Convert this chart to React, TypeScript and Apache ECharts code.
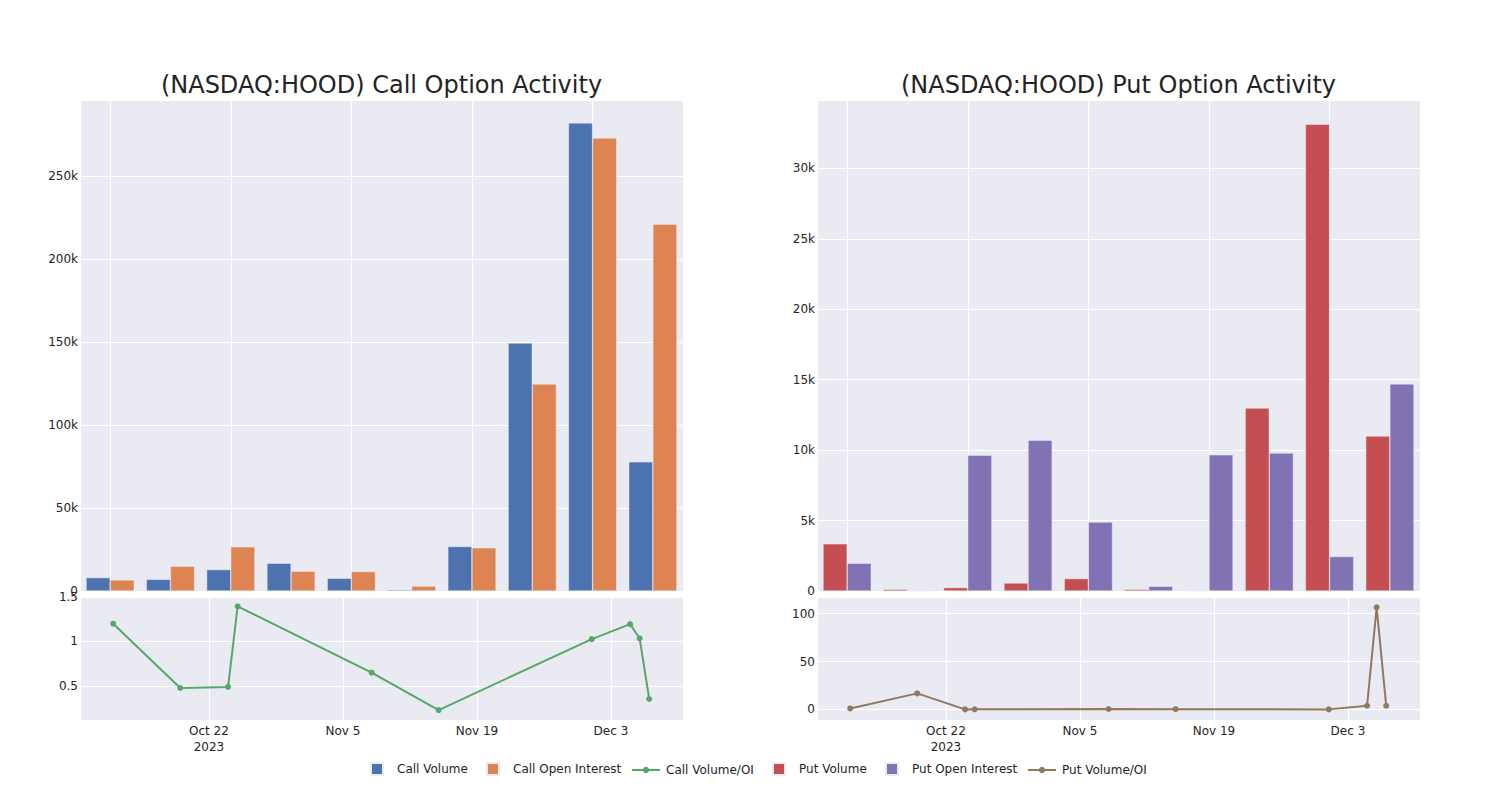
import React, { useEffect, useRef } from 'react';
import * as echarts from 'echarts';

// ---- data ----
const dates = [
  '2023-10-12', '2023-10-19', '2023-10-24', '2023-10-25', '2023-11-08',
  '2023-11-15', '2023-12-01', '2023-12-05', '2023-12-06', '2023-12-07',
];
const callVolume = [8050, 7000, 12900, 16700, 7650, 680, 26800, 149400, 282000, 77800];
const callOpenInterest = [6650, 14900, 26600, 11900, 11700, 2970, 26000, 124700, 272900, 220900];
const callVolumeOI = [1.2, 0.477, 0.489, 1.395, 0.65, 0.229, 1.026, 1.195, 1.034, 0.353];
const putVolume = [3350, 120, 240, 570, 880, 120, 20, 12990, 33140, 11000];
const putOpenInterest = [1970, 7, 9640, 10710, 4890, 330, 9670, 9790, 2450, 14700];
const putVolumeOI = [1.0, 16.7, 0.0, 0.1, 0.4, 0.2, 0.0, 3.8, 106.6, 3.8];

const xTickDates = ['2023-10-22', '2023-11-05', '2023-11-19', '2023-12-03'];
const xTickLabels = ['Oct 22\n2023', 'Nov 5', 'Nov 19', 'Dec 3'];

const titles = ['(NASDAQ:HOOD) Call Option Activity', '(NASDAQ:HOOD) Put Option Activity'];

// ---- helpers ----
const DAY = 86400000;
const refMs = Date.parse(xTickDates[0] + 'T00:00:00Z');
const dayOffset = (d: string) => (Date.parse(d + 'T00:00:00Z') - refMs) / DAY;
const tickOffsets = xTickDates.map(dayOffset);

const FONT = '"DejaVu Sans", verdana, arial, sans-serif';
const TXT = '#242424';
const BG = '#EAEAF2';
const COLORS = {
  callVol: '#4C72B0', callOI: '#DD8452', callRatio: '#55A868',
  putVol: '#C44E52', putOI: '#8172B3', putRatio: '#937860',
};

const isMult = (v: number, step: number) => Math.abs(v / step - Math.round(v / step)) < 1e-6;
const kFmt = (step: number) => (v: number) => {
  if (!isMult(v, step)) return '';
  if (v === 0) return '0';
  return v / 1000 + 'k';
};
const numFmt = (step: number) => (v: number) => (isMult(v, step) ? String(+v.toFixed(4)) : '');
const dateFmt = (v: number) => {
  const i = tickOffsets.findIndex((t) => Math.abs(t - v) < 1e-6);
  return i >= 0 ? xTickLabels[i] : '';
};

const X_MIN = -13.47;
const X_MAX = 49.53;

const hidden = { show: false };

function catAxis(gridIndex: number) {
  return {
    type: 'category', gridIndex, data: dates,
    axisLabel: hidden, axisTick: hidden, axisLine: hidden, splitLine: hidden,
  };
}
function catGridAxis(gridIndex: number) {
  return {
    type: 'value', gridIndex, min: -0.5, max: dates.length - 0.5,
    minInterval: 2, maxInterval: 2,
    axisLabel: hidden, axisTick: hidden, axisLine: hidden,
    splitLine: { show: true, lineStyle: { color: '#ffffff', width: 1 } },
  };
}
function dateAxis(gridIndex: number) {
  return {
    type: 'value', gridIndex, min: X_MIN, max: X_MAX,
    minInterval: 14, maxInterval: 14,
    axisLabel: {
      formatter: dateFmt, color: TXT, fontSize: 12, fontFamily: FONT,
      margin: 3, lineHeight: 16,
    },
    axisTick: hidden, axisLine: hidden,
    splitLine: { show: true, lineStyle: { color: '#ffffff', width: 1 } },
  };
}
function yAxis(gridIndex: number, min: number, max: number, step: number, fmt: any) {
  return {
    type: 'value', gridIndex, min, max, minInterval: step, maxInterval: step,
    axisLabel: { formatter: fmt, color: TXT, fontSize: 12, fontFamily: FONT, margin: 2 },
    axisTick: hidden, axisLine: hidden,
    splitLine: { show: true, lineStyle: { color: '#ffffff', width: 1 } },
  };
}

function barSeries(name: string, data: number[], color: string, xi: number, yi: number) {
  return {
    type: 'bar', name, data, xAxisIndex: xi, yAxisIndex: yi,
    barGap: '0%', barCategoryGap: '20%',
    itemStyle: { color, borderColor: BG, borderWidth: 0.5 },
  };
}
function lineSeries(name: string, data: number[], color: string, xi: number, yi: number) {
  return {
    type: 'line', name, xAxisIndex: xi, yAxisIndex: yi,
    data: dates.map((d, i) => [dayOffset(d), data[i]]),
    symbol: 'circle', symbolSize: 6, showSymbol: true,
    itemStyle: { color }, lineStyle: { color, width: 2 },
  };
}

function legendItem(name: string, left: number, isLine: boolean) {
  const h = isLine ? 8 : 12;
  return {
    data: isLine ? [name] : [{ name, icon: 'rect' }],
    left, top: 768 - h / 2, padding: 0,
    itemWidth: isLine ? 28 : 12, itemHeight: h,
    textStyle: {
      color: TXT, fontSize: 12, fontFamily: FONT,
      padding: [0, 0, 0, isLine ? 1 : 9],
    },
  };
}

export default function App() {
  const ref = useRef<HTMLDivElement>(null);
  useEffect(() => {
    if (!ref.current) return;
    const chart = echarts.init(ref.current, undefined, { renderer: 'svg' });
    const option: any = {
      animation: false,
      backgroundColor: '#ffffff',
      textStyle: { fontFamily: FONT },
      title: titles.map((t, i) => ({
        text: t, left: i === 0 ? 381.5 : 1118.5, top: 73, textAlign: 'center', padding: 0,
        textStyle: { fontSize: 24, fontWeight: 'normal', color: TXT, fontFamily: FONT },
      })),
      legend: [
        legendItem('Call Volume', 370, false),
        legendItem('Call Open Interest', 486, false),
        legendItem('Call Volume/OI', 631, true),
        legendItem('Put Volume', 772, false),
        legendItem('Put Open Interest', 885, false),
        legendItem('Put Volume/OI', 1027, true),
      ],
      grid: [
        { left: 80, top: 100, width: 603, height: 491, show: true, backgroundColor: BG, borderWidth: 0 },
        { left: 80, top: 597, width: 603, height: 123, show: true, backgroundColor: BG, borderWidth: 0 },
        { left: 817, top: 100, width: 603, height: 491, show: true, backgroundColor: BG, borderWidth: 0 },
        { left: 817, top: 597, width: 603, height: 123, show: true, backgroundColor: BG, borderWidth: 0 },
      ],
      xAxis: [
        catAxis(0), catGridAxis(0), dateAxis(1),
        catAxis(2), catGridAxis(2), dateAxis(3),
      ],
      yAxis: [
        yAxis(0, 0, 295800, 50000, kFmt(50000)),
        yAxis(1, 0.117, 1.5, 0.5, numFmt(0.5)),
        yAxis(2, 0, 34860, 5000, kFmt(5000)),
        yAxis(3, -11.1, 117.4, 50, numFmt(50)),
      ],
      series: [
        barSeries('Call Volume', callVolume, COLORS.callVol, 0, 0),
        barSeries('Call Open Interest', callOpenInterest, COLORS.callOI, 0, 0),
        lineSeries('Call Volume/OI', callVolumeOI, COLORS.callRatio, 2, 1),
        barSeries('Put Volume', putVolume, COLORS.putVol, 3, 2),
        barSeries('Put Open Interest', putOpenInterest, COLORS.putOI, 3, 2),
        lineSeries('Put Volume/OI', putVolumeOI, COLORS.putRatio, 5, 3),
      ],
    };
    chart.setOption(option);
    return () => chart.dispose();
  }, []);
  return (
    <div
      ref={ref}
      style={{ position: 'absolute', left: 0, top: 0, width: 1500, height: 800 }}
    />
  );
}
